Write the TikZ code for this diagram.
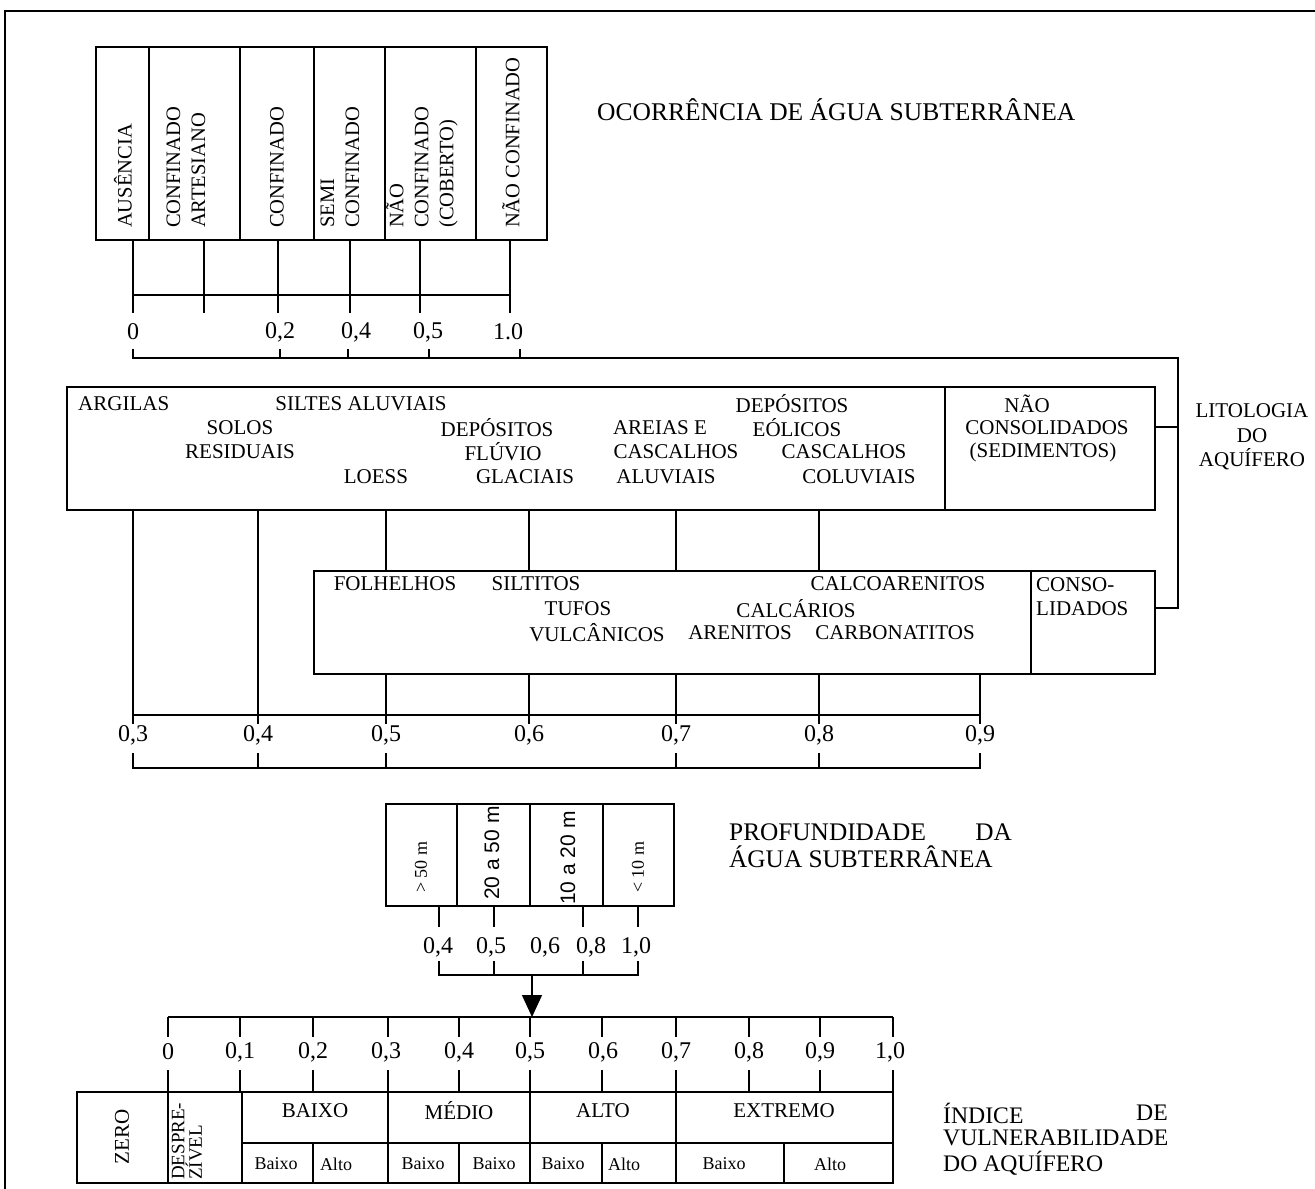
\documentclass[tikz,border=0pt]{standalone}
\usepackage{fontspec}
\setmainfont{Liberation Serif}
\newfontfamily\arialf{Liberation Sans}
\usetikzlibrary{arrows.meta}
\begin{document}
\begin{tikzpicture}[x=1pt,y=-1pt,
  ln/.style={line width=1.4pt},
  lbl/.style={font=\fontsize{21}{24}\selectfont, inner sep=0pt},
  sml/.style={font=\fontsize{18}{22}\selectfont, inner sep=0pt},
  num/.style={font=\fontsize{24}{26}\selectfont, inner sep=0pt},
  ttl/.style={inner sep=0pt, align=left},
  vlbl/.style={rotate=90, anchor=west, align=left, inner sep=0pt, font=\fontsize{20.5}{25}\selectfont}]
\useasboundingbox (0,0) rectangle (1315,1189);
\fill[white] (0,0) rectangle (1315,1189);
% frame
\draw[ln] (1315,11) -- (5,11) -- (5,1189);

% ---------- top box: occurrence ----------
\draw[ln] (96,47) rectangle (547,240);
\foreach \x in {149,240,314,385,476} \draw[ln] (\x,47)--(\x,240);
\node[vlbl] (aus) at (123,228) {AUSÊNCIA};
\node[vlbl] (cart) at (186,228) {CONFINADO\\ARTESIANO};
\node[vlbl] (conf) at (277,228) {CONFINADO};
\node[vlbl] (semi) at (340,228) {SEMI\\CONFINADO};
\node[vlbl] (ncc) at (422,228) {NÃO\\CONFINADO\\(COBERTO)};
\node[vlbl] (nc) at (511,228) {NÃO CONFINADO};
\node[ttl, anchor=west, font=\fontsize{25.5}{28}\selectfont] (t1) at (597,110) {OCORRÊNCIA DE ÁGUA SUBTERRÂNEA};

\foreach \x in {133,204,278,350,420,510} \draw[ln] (\x,240)--(\x,313);
\draw[ln] (133,295)--(510,295);
\node[num] (o0) at (133,332) {0};
\node[num] (o2) at (280,332) {0,2};
\node[num] (o4) at (356,332) {0,4};
\node[num] (o5) at (428,332) {0,5};
\node[num] (o10) at (508,332) {1.0};

% bracket and right link
\draw[ln] (133,349)--(133,358)--(1178,358)--(1178,608)--(1155,608);
\draw[ln] (1155,427)--(1178,427);
\foreach \x in {280,348,429,520} \draw[ln] (\x,349)--(\x,358);
\node[ttl, align=center, font=\fontsize{21}{24.5}\selectfont] (lit) at (1252,437) {LITOLOGIA\\DO\\AQUÍFERO};

% ---------- lithology upper box ----------
\draw[ln] (67,387) rectangle (1155,510);
\draw[ln] (945,387)--(945,510);
\node[lbl, anchor=west] (arg) at (78,404) {ARGILAS};
\node[lbl] (sil) at (361,404) {SILTES ALUVIAIS};
\node[lbl] (sol) at (240,428) {SOLOS};
\node[lbl] (res) at (240,452) {RESIDUAIS};
\node[lbl] (loe) at (376,477) {LOESS};
\node[lbl] (dep1) at (497,428) {DEPÓSITOS};
\node[lbl] (flu) at (503,452) {FLÚVIO};
\node[lbl] (gla) at (525,477) {GLACIAIS};
\node[lbl] (are) at (660,428) {AREIAS E};
\node[lbl] (cas1) at (676,452) {CASCALHOS};
\node[lbl] (alu) at (666,477) {ALUVIAIS};
\node[lbl] (dep2) at (792,404) {DEPÓSITOS};
\node[lbl] (eol) at (797,428) {EÓLICOS};
\node[lbl] (cas2) at (844,452) {CASCALHOS};
\node[lbl] (col) at (859,477) {COLUVIAIS};
\node[lbl] (nao) at (1027,404) {NÃO};
\node[lbl] (cons) at (1047,428) {CONSOLIDADOS};
\node[lbl] (sed) at (1043,452) {(SEDIMENTOS)};

% ---------- lithology lower box ----------
\draw[ln] (314,571) rectangle (1155,674);
\draw[ln] (1031,571)--(1031,674);
\node[lbl] (fol) at (395,584) {FOLHELHOS};
\node[lbl] (silt) at (536,584) {SILTITOS};
\node[lbl] (calco) at (898,584) {CALCOARENITOS};
\node[lbl] (tuf) at (578,609) {TUFOS};
\node[lbl] (calc) at (796,609) {CALCÁRIOS};
\node[lbl] (vul) at (597,633) {VULCÂNICOS};
\node[lbl] (aren) at (740,633) {ARENITOS};
\node[lbl] (carb) at (895,633) {CARBONATITOS};
\node[lbl, anchor=west, align=left] (cons2) at (1036,597) {CONSO-\\LIDADOS};

% connectors lithology
\draw[ln] (133,510)--(133,724);
\draw[ln] (258,510)--(258,724);
\foreach \x in {386,529,676,819} {\draw[ln] (\x,510)--(\x,571); \draw[ln] (\x,674)--(\x,724);}
\draw[ln] (980,674)--(980,724);
\draw[ln] (133,715)--(980,715);
\node[num] (l3) at (133,735) {0,3};
\node[num] (l4) at (258,735) {0,4};
\node[num] (l5) at (386,735) {0,5};
\node[num] (l6) at (529,735) {0,6};
\node[num] (l7) at (676,735) {0,7};
\node[num] (l8) at (819,735) {0,8};
\node[num] (l9) at (980,735) {0,9};
\draw[ln] (133,753)--(133,768)--(980,768)--(980,753);
\foreach \x in {258,386,676,819} \draw[ln] (\x,753)--(\x,768);

% ---------- depth ----------
\draw[ln] (386,804) rectangle (674,906);
\foreach \x in {457,530,603} \draw[ln] (\x,804)--(\x,906);
\node[sml, rotate=90, anchor=west] (d1) at (421,893) {> 50 m};
\node[font=\arialf\fontsize{21}{24}\selectfont, inner sep=0pt, rotate=90, anchor=west] (d2) at (492,900) {20 a 50 m};
\node[font=\arialf\fontsize{21}{24}\selectfont, inner sep=0pt, rotate=90, anchor=west] (d3) at (568,905) {10 a 20 m};
\node[sml, rotate=90, anchor=west] (d4) at (638,893) {< 10 m};
\node[ttl, anchor=west, font=\fontsize{25.3}{28}\selectfont] (t2a) at (729,832) {PROFUNDIDADE};
\node[ttl, anchor=east, font=\fontsize{25.3}{28}\selectfont] (t2b) at (1012,832) {DA};
\node[ttl, anchor=west, font=\fontsize{25.3}{28}\selectfont] (t2c) at (729,857) {ÁGUA SUBTERRÂNEA};

\foreach \x in {439,494,583,638} \draw[ln] (\x,906)--(\x,927);
\node[num] (p4) at (438,947) {0,4};
\node[num] (p5) at (491,947) {0,5};
\node[num] (p6) at (545,947) {0,6};
\node[num] (p8) at (591,947) {0,8};
\node[num] (p10) at (636,947) {1,0};
\draw[ln] (439,961)--(439,975)--(638,975)--(638,961);
\foreach \x in {494,583} \draw[ln] (\x,961)--(\x,975);
\coordinate (arrS) at (532,975);
\coordinate (arrE) at (532,1017);
\draw[ln, -{Triangle[width=20pt,length=22pt]}] (arrS)--(arrE);

% ---------- index scale ----------
\draw[ln] (168,1017)--(893,1017);
\foreach \i/\x in {0/168,1/240,2/313,3/388,4/459,5/530,6/602,7/676,8/749,9/820,10/893} {
  \draw[ln] (\x,1017)--(\x,1037);
  \draw[ln] (\x,1070)--(\x,1092);
}
\node[num] (i0) at (168,1052) {0};
\node[num] (i1) at (240,1052) {0,1};
\node[num] (i2) at (313,1052) {0,2};
\node[num] (i3) at (386,1052) {0,3};
\node[num] (i4) at (459,1052) {0,4};
\node[num] (i5) at (530,1052) {0,5};
\node[num] (i6) at (603,1052) {0,6};
\node[num] (i7) at (676,1052) {0,7};
\node[num] (i8) at (749,1052) {0,8};
\node[num] (i9) at (820,1052) {0,9};
\node[num] (i10) at (890,1052) {1,0};

% ---------- table ----------
\draw[ln] (77,1092) rectangle (893,1183);
\draw[ln] (242,1143)--(893,1143);
\foreach \x in {168,242,388,530,676} \draw[ln] (\x,1092)--(\x,1183);
\foreach \x in {313,459,602,784} \draw[ln] (\x,1143)--(\x,1183);
\node[lbl, rotate=90] (zero) at (122,1137) {ZERO};
\node[rotate=90, anchor=west, align=left, inner sep=0pt, font=\fontsize{19}{15}\selectfont] (desp) at (187,1180) {DESPRE-\\ZÍVEL};
\node[lbl] (bx) at (315,1111) {BAIXO};
\node[lbl] (md) at (459,1111) {MÉDIO};
\node[lbl] (al) at (603,1111) {ALTO};
\node[lbl] (ex) at (784,1111) {EXTREMO};
\node[sml] (s1) at (276,1164) {Baixo};
\node[sml] (s2) at (336,1164) {Alto};
\node[sml] (s3) at (423,1164) {Baixo};
\node[sml] (s4) at (494,1164) {Baixo};
\node[sml] (s5) at (563,1164) {Baixo};
\node[sml] (s6) at (624,1164) {Alto};
\node[sml] (s7) at (724,1164) {Baixo};
\node[sml] (s8) at (830,1164) {Alto};
\node[ttl, anchor=west, font=\fontsize{23.7}{26}\selectfont] (t3a) at (943,1113) {ÍNDICE};
\node[ttl, anchor=east, font=\fontsize{23.7}{26}\selectfont] (t3b) at (1168,1113) {DE};
\node[ttl, anchor=west, font=\fontsize{23.7}{26}\selectfont] (t3c) at (943,1138) {VULNERABILIDADE};
\node[ttl, anchor=west, font=\fontsize{23.7}{26}\selectfont] (t3d) at (943,1163) {DO AQUÍFERO};
\end{tikzpicture}
\end{document}
